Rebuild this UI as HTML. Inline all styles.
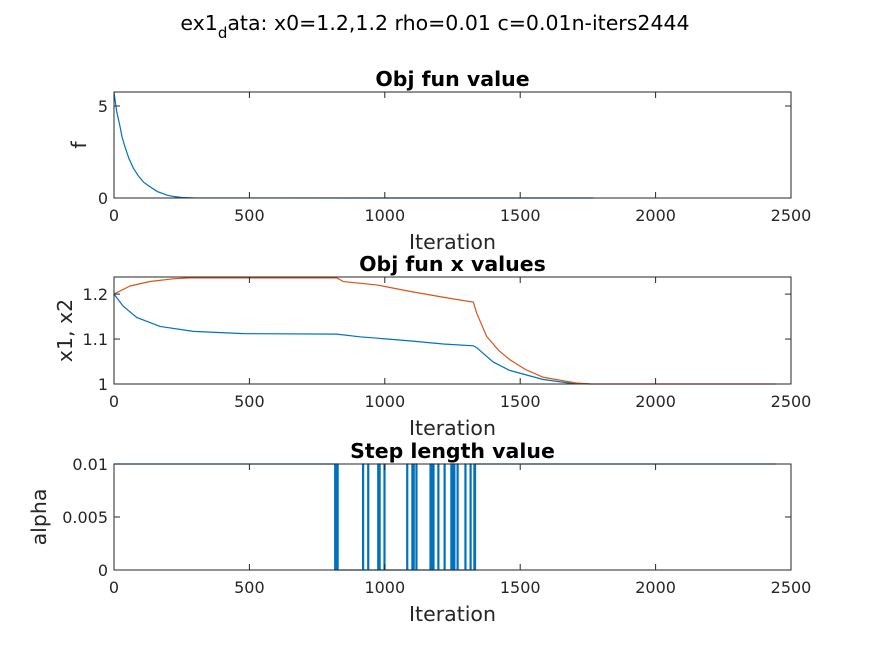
<!DOCTYPE html>
<html><head><meta charset="utf-8"><style>
body{margin:0;background:#fff;}
svg{display:block;font-family:"DejaVu Sans","Liberation Sans",sans-serif;}
.tk{font-size:16px;fill:#262626;}
.lab{font-size:20.5px;fill:#262626;}
.ttl{font-size:20.5px;font-weight:bold;fill:#000;}
</style></head><body>
<svg id="fig" width="875" height="656">
<rect width="875" height="656" fill="#fff"/>
<text x="435" y="30" text-anchor="middle" style="font-size:20.5px" fill="#000">ex1<tspan dy="8" style="font-size:15px">d</tspan><tspan dy="-8">ata: x0=1.2,1.2 rho=0.01 c=0.01n-iters2444</tspan></text>
</svg>
<script>
// Data
const fIters=[0,10,22,30,40,55,71,90,110,133,160,195,220,250,300,1770];
const fVals=[5.75,4.7,3.9,3.3,2.8,2.15,1.63,1.2,0.85,0.61,0.35,0.16,0.08,0.03,0.003,0];
const x1Iters=[0,34,84,170,293,477,822,908,1093,1216,1327,1339,1400,1462,1585,1683,1760];
const x1Vals=[1.2,1.173,1.148,1.128,1.117,1.112,1.111,1.105,1.096,1.089,1.085,1.081,1.049,1.030,1.01,1.002,1.0];
const x2Iters=[0,59,133,218,281,822,847,970,1093,1216,1327,1339,1376,1420,1462,1520,1585,1709,1760,2444];
const x2Vals=[1.2,1.218,1.228,1.234,1.236,1.236,1.2278,1.2204,1.206,1.193,1.182,1.158,1.106,1.075,1.054,1.032,1.015,1.002,1.0,1.0];
const spikeIters=[819,824,918,937,974,979,997,1081,1100,1105,1115,1167,1172,1178,1196,1219,1244,1250,1255,1267,1296,1315,1329];
const alphaHigh=0.01, alphaLow=0, alphaDropAt=815, alphaRiseAt=1335, nIters=2444;
const xTicks=[0,500,1000,1500,2000,2500];

const svg=document.getElementById('fig');
const NS='http://www.w3.org/2000/svg';
function el(t,a,p){const e=document.createElementNS(NS,t);for(const k in a)e.setAttribute(k,a[k]);(p||svg).appendChild(e);return e;}
const L=114,R=791;
const sx=v=>L+(v/2500)*(R-L);

function axes(name,top,bot,ymin,ymax,yTicks,yLabels,title,ylab){
  const g=el('g',{});
  
  
  const sy=v=>bot-(v-ymin)/(ymax-ymin)*(bot-top);
  el('rect',{x:L,y:top,width:R-L,height:bot-top,fill:'#fff',stroke:'none'},g);
  return {g,sy,finish(){
    const b=el('rect',{x:L,y:top,width:R-L,height:bot-top,fill:'none',stroke:'#262626','stroke-width':1},g);
    
    xTicks.forEach(t=>{const x=sx(t);
      el('line',{x1:x,y1:bot,x2:x,y2:bot-6,stroke:'#262626'},g);
      el('line',{x1:x,y1:top,x2:x,y2:top+6,stroke:'#262626'},g);
      const tx=el('text',{x:x,y:bot+23,'text-anchor':'middle',class:'tk'},g);tx.textContent=t;
      });
    yTicks.forEach((t,i)=>{const y=sy(t);
      el('line',{x1:L,y1:y,x2:L+6,y2:y,stroke:'#262626'},g);
      el('line',{x1:R,y1:y,x2:R-6,y2:y,stroke:'#262626'},g);
      const tx=el('text',{x:L-6,y:y+6,'text-anchor':'end',class:'tk'},g);tx.textContent=yLabels[i];
      });
    const xl=el('text',{x:(L+R)/2,y:bot+51,'text-anchor':'middle',class:'lab'},g);xl.textContent='Iteration';
    
    const tt=el('text',{x:(L+R)/2,y:top-6,'text-anchor':'middle',class:'ttl'},g);tt.textContent=title;
    
    const cy=(top+bot)/2;
    const yl=el('text',{x:0,y:0,'text-anchor':'middle',class:'lab',transform:`translate(${ylab[1]},${cy}) rotate(-90)`},g);yl.textContent=ylab[0];
    
  }};
}
function line(g,pts,color,name){
  const p=el('polyline',{points:pts.map(q=>q.join(',')).join(' '),fill:'none',stroke:color,'stroke-width':1.2},g);
  
  
}

// Plot 1
const a1=axes('obj-fun-value-plot',92,198,0,5.76,[0,5],['0','5'],'Obj fun value',['f',86]);
line(a1.g,fIters.map((t,i)=>[sx(t),a1.sy(fVals[i])]),'#0072BD','f-series');
a1.finish();

// Plot 2
const a2=axes('x-values-plot',277,384,1,1.238,[1,1.1,1.2],['1','1.1','1.2'],'Obj fun x values',['x1, x2',72]);
line(a2.g,x1Iters.map((t,i)=>[sx(t),a2.sy(x1Vals[i])]),'#0072BD','x1-series');
line(a2.g,x2Iters.map((t,i)=>[sx(t),a2.sy(x2Vals[i])]),'#D95319','x2-series');
a2.finish();

// Plot 3
const a3=axes('step-length-plot',464,570,0,0.01,[0,0.005,0.01],['0','0.005','0.01'],'Step length value',['alpha',46]);
const ap=[[sx(0),a3.sy(alphaHigh)],[sx(alphaDropAt),a3.sy(alphaHigh)],[sx(alphaDropAt),a3.sy(alphaLow)]];
spikeIters.forEach(t=>{ap.push([sx(t),a3.sy(alphaLow)],[sx(t),a3.sy(alphaHigh)],[sx(t)+1,a3.sy(alphaHigh)],[sx(t)+1,a3.sy(alphaLow)]);});
ap.push([sx(alphaRiseAt),a3.sy(alphaLow)],[sx(alphaRiseAt),a3.sy(alphaHigh)],[sx(nIters),a3.sy(alphaHigh)]);
line(a3.g,ap,'#0072BD','alpha-series');
a3.finish();
</script>
</body></html>
